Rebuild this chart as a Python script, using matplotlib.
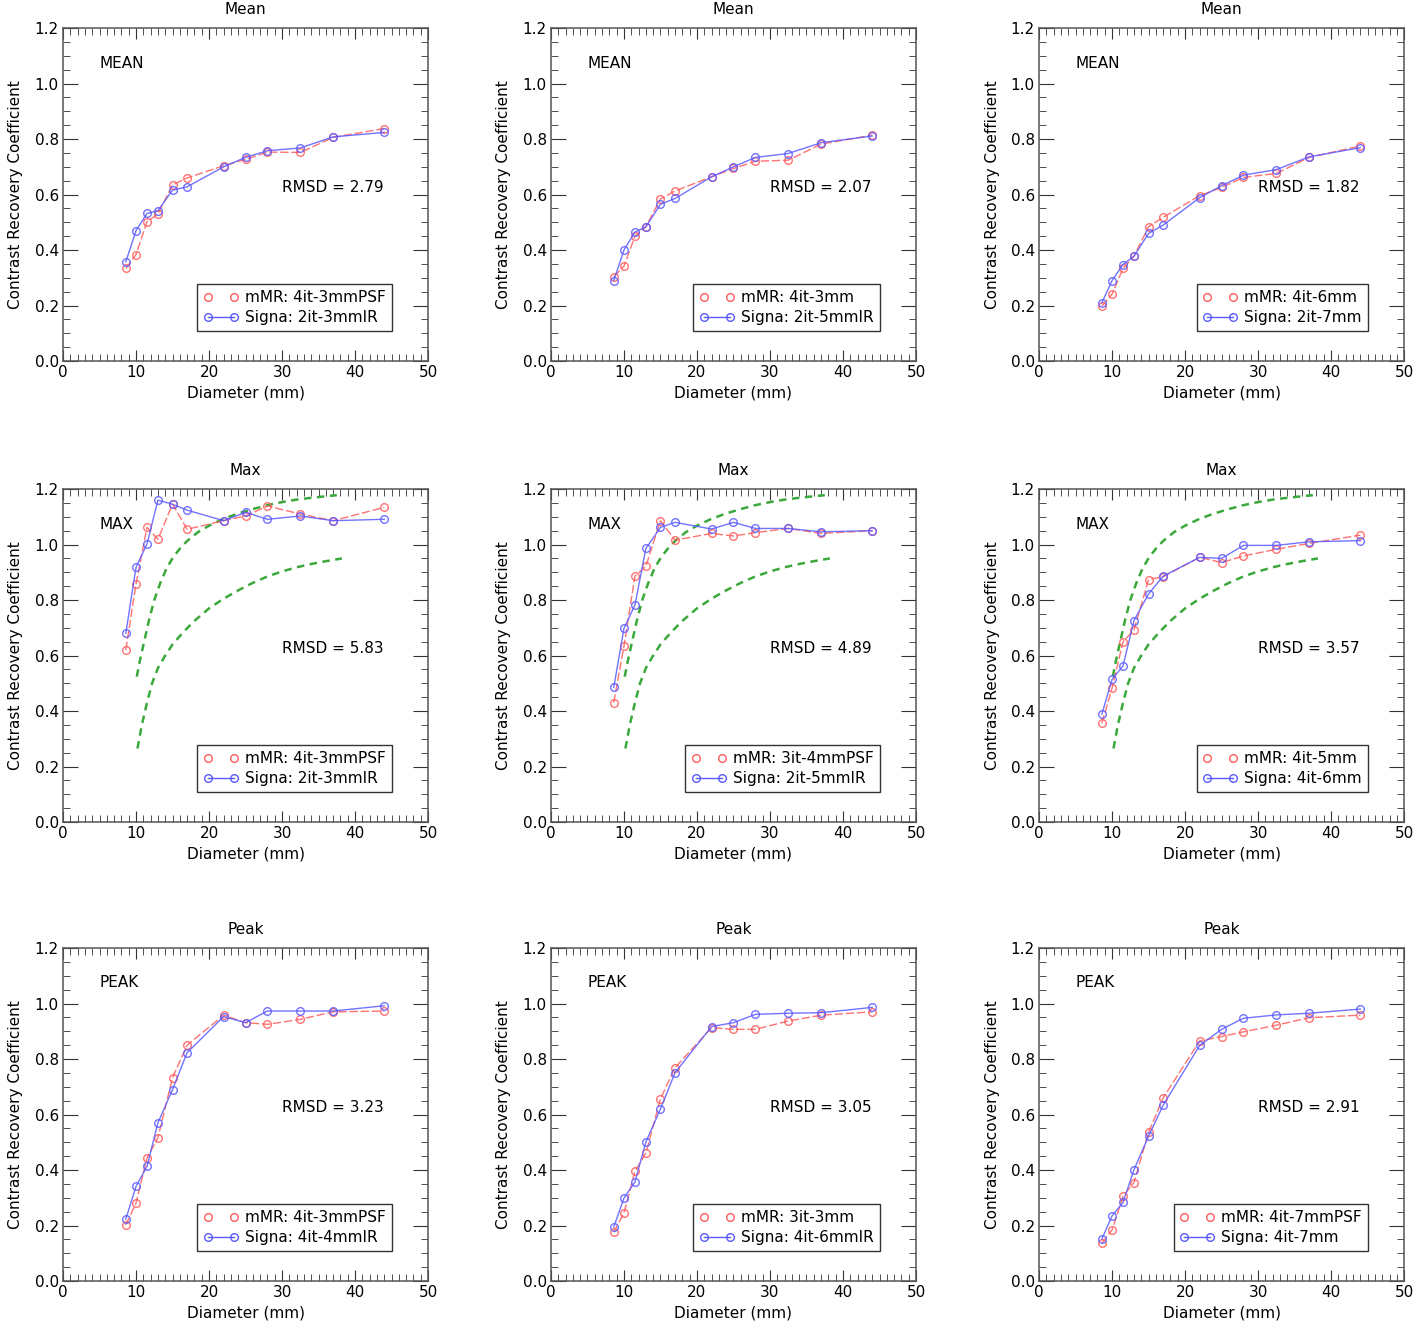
import matplotlib
matplotlib.use('Agg')
from matplotlib import pyplot as plt
from matplotlib.lines import Line2D
from matplotlib.ticker import MultipleLocator

# sphere diameters (mm)
diam = [8.6, 10, 11.5, 13, 15, 17, 22, 25, 28, 32.5, 37, 44]

# Mean
mean_mmr_1 = [0.334, 0.384, 0.502, 0.530, 0.635, 0.660, 0.704, 0.727, 0.753, 0.752, 0.806, 0.838]
mean_sig_1 = [0.358, 0.470, 0.532, 0.542, 0.616, 0.628, 0.700, 0.734, 0.758, 0.768, 0.808, 0.824]
mean_mmr_2 = [0.304, 0.342, 0.450, 0.484, 0.584, 0.613, 0.664, 0.694, 0.720, 0.724, 0.782, 0.814]
mean_sig_2 = [0.290, 0.400, 0.465, 0.484, 0.565, 0.586, 0.664, 0.700, 0.734, 0.748, 0.787, 0.811]
mean_mmr_3 = [0.198, 0.241, 0.334, 0.378, 0.484, 0.518, 0.596, 0.626, 0.662, 0.676, 0.734, 0.775]
mean_sig_3 = [0.210, 0.290, 0.348, 0.378, 0.460, 0.490, 0.589, 0.632, 0.670, 0.690, 0.736, 0.769]

# Max
max_mmr_1 = [0.620, 0.858, 1.062, 1.019, 1.146, 1.055, 1.086, 1.103, 1.139, 1.110, 1.086, 1.134]
max_sig_1 = [0.680, 0.918, 1.002, 1.160, 1.145, 1.124, 1.086, 1.116, 1.091, 1.103, 1.086, 1.091]
max_mmr_2 = [0.430, 0.634, 0.886, 0.922, 1.086, 1.016, 1.040, 1.031, 1.043, 1.058, 1.040, 1.050]
max_sig_2 = [0.485, 0.698, 0.782, 0.986, 1.062, 1.080, 1.056, 1.080, 1.058, 1.058, 1.046, 1.050]
max_mmr_3 = [0.356, 0.482, 0.650, 0.692, 0.874, 0.884, 0.954, 0.935, 0.959, 0.983, 1.004, 1.034]
max_sig_3 = [0.389, 0.514, 0.563, 0.726, 0.822, 0.886, 0.954, 0.950, 0.997, 0.997, 1.010, 1.014]

# Peak
peak_mmr_1 = [0.202, 0.281, 0.443, 0.516, 0.733, 0.850, 0.958, 0.931, 0.925, 0.943, 0.970, 0.973]
peak_sig_1 = [0.223, 0.341, 0.413, 0.570, 0.690, 0.823, 0.953, 0.931, 0.973, 0.973, 0.973, 0.992]
peak_mmr_2 = [0.176, 0.245, 0.395, 0.461, 0.657, 0.769, 0.913, 0.907, 0.907, 0.937, 0.958, 0.970]
peak_sig_2 = [0.194, 0.299, 0.357, 0.501, 0.620, 0.751, 0.917, 0.931, 0.961, 0.965, 0.967, 0.986]
peak_mmr_3 = [0.136, 0.184, 0.305, 0.355, 0.536, 0.660, 0.865, 0.881, 0.898, 0.922, 0.949, 0.958]
peak_sig_3 = [0.151, 0.235, 0.283, 0.401, 0.522, 0.634, 0.849, 0.907, 0.947, 0.959, 0.965, 0.980]

# limits shown on the Max panels (green dashed)
lim_hi_x = [10.1, 10.6, 11.2, 11.8, 12.5, 13.3, 14.2, 15.1, 16.0, 17.0,
            18.5, 20.0, 22.0, 24.0, 26.0, 28.0, 30.0, 32.0, 34.5, 37.5]
lim_hi_y = [0.524, 0.59, 0.66, 0.73, 0.80, 0.86, 0.915, 0.955, 0.985, 1.013,
            1.045, 1.068, 1.093, 1.112, 1.128, 1.142, 1.153, 1.162, 1.170, 1.178]
lim_lo_x = [10.2, 10.8, 11.5, 12.2, 13.0, 14.0, 15.0, 16.5, 18.0, 20.0,
            22.0, 24.0, 26.0, 28.0, 30.0, 32.0, 34.0, 36.0, 38.2]
lim_lo_y = [0.265, 0.35, 0.43, 0.50, 0.555, 0.60, 0.64, 0.685, 0.725, 0.77,
            0.805, 0.835, 0.862, 0.885, 0.903, 0.918, 0.930, 0.940, 0.950]

titles = ['Mean', 'Max', 'Peak']
tags = ['MEAN', 'MAX', 'PEAK']
rmsd = [['2.79', '2.07', '1.82'],
        ['5.83', '4.89', '3.57'],
        ['3.23', '3.05', '2.91']]
mmr_labels = [['mMR: 4it-3mmPSF', 'mMR: 4it-3mm', 'mMR: 4it-6mm'],
              ['mMR: 4it-3mmPSF', 'mMR: 3it-4mmPSF', 'mMR: 4it-5mm'],
              ['mMR: 4it-3mmPSF', 'mMR: 3it-3mm', 'mMR: 4it-7mmPSF']]
sig_labels = [['Signa: 2it-3mmIR', 'Signa: 2it-5mmIR', 'Signa: 2it-7mm'],
              ['Signa: 2it-3mmIR', 'Signa: 2it-5mmIR', 'Signa: 4it-6mm'],
              ['Signa: 4it-4mmIR', 'Signa: 4it-6mmIR', 'Signa: 4it-7mm']]

mmr_data = [[mean_mmr_1, mean_mmr_2, mean_mmr_3],
            [max_mmr_1, max_mmr_2, max_mmr_3],
            [peak_mmr_1, peak_mmr_2, peak_mmr_3]]
sig_data = [[mean_sig_1, mean_sig_2, mean_sig_3],
            [max_sig_1, max_sig_2, max_sig_3],
            [peak_sig_1, peak_sig_2, peak_sig_3]]

red = '#ff5a5a'
blue = '#5a5aff'
green = '#3aa83a'

fig = plt.figure(figsize=(14.16, 13.25), dpi=100)

lefts = [0.0445, 0.3891, 0.7338]
bottoms = [0.7275, 0.3796, 0.0332]
w, h = 0.2578, 0.2513

for r in range(3):
    for c in range(3):
        ax = fig.add_axes([lefts[c], bottoms[r], w, h])

        if r == 1:
            ax.plot(lim_hi_x, lim_hi_y, color=green, lw=1.8, ls=(0, (3, 2.2)))
            ax.plot(lim_lo_x, lim_lo_y, color=green, lw=1.8, ls=(0, (3, 2.2)))

        ax.plot(diam, mmr_data[r][c], color=red, lw=1.0, ls=(0, (6, 2)),
                marker='o', ms=5.5, mfc='none', mec=red, mew=1.0, alpha=0.85)
        ax.plot(diam, sig_data[r][c], color=blue, lw=1.0, ls='-',
                marker='o', ms=5.5, mfc='none', mec=blue, mew=1.0, alpha=0.85)

        ax.set_xlim(0, 50)
        ax.set_ylim(0, 1.2)
        ax.xaxis.set_major_locator(MultipleLocator(10))
        ax.xaxis.set_minor_locator(MultipleLocator(1))
        ax.yaxis.set_major_locator(MultipleLocator(0.2))
        ax.yaxis.set_minor_locator(MultipleLocator(0.05))
        ax.yaxis.set_major_formatter(plt.FormatStrFormatter('%.1f'))
        ax.tick_params(which='both', direction='in', top=True, right=True,
                       colors='#333333', labelcolor='black', labelsize=11)
        ax.tick_params(axis='x', which='major', length=8, pad=3)
        ax.tick_params(axis='y', which='major', length=11, pad=3)
        ax.tick_params(which='minor', length=5)
        for s in ax.spines.values():
            s.set_color('#555555')
            s.set_linewidth(1.1)

        ax.set_title(titles[r], fontsize=11, pad=10)
        ax.set_xlabel('Diameter (mm)', fontsize=11, labelpad=4)
        ax.set_ylabel('Contrast Recovery Coefficient', fontsize=11, labelpad=8)

        ax.text(0.10, 0.895, tags[r], transform=ax.transAxes, fontsize=11,
                ha='left', va='center')
        ax.text(0.74, 0.52, 'RMSD = ' + rmsd[r][c], transform=ax.transAxes,
                fontsize=11, ha='center', va='center')

        h_mmr = Line2D([], [], color=red, ls='none', marker='o', ms=5.5,
                       mfc='none', mec=red, mew=1.0)
        h_sig = Line2D([], [], color=blue, ls='-', lw=1.0, marker='o', ms=5.5,
                       mfc='none', mec=blue, mew=1.0)
        leg = ax.legend([h_mmr, h_sig], [mmr_labels[r][c], sig_labels[r][c]],
                        loc='lower right', bbox_to_anchor=(0.9, 0.09),
                        borderaxespad=0, fontsize=11, numpoints=2,
                        fancybox=False, framealpha=1, handlelength=2.3,
                        handletextpad=0.4, labelspacing=0.3, borderpad=0.4)
        leg.get_frame().set_edgecolor('#333333')
        leg.get_frame().set_linewidth(1.0)

fig.savefig('out.png', dpi=100)
